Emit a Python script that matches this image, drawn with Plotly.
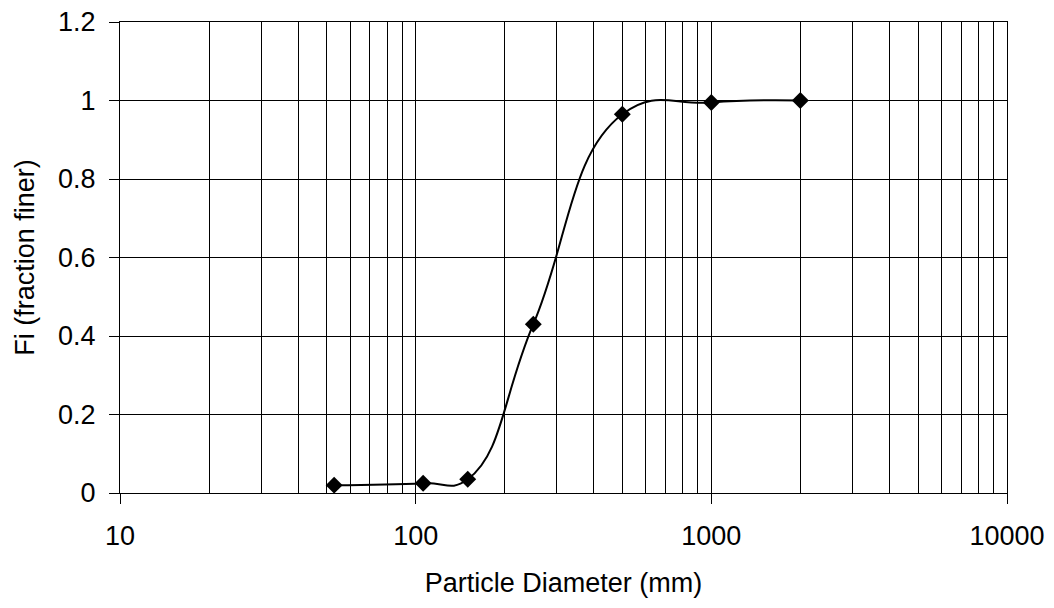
import plotly.graph_objects as go

diameter = [53, 106, 150, 250, 500, 1000, 2000]
fraction_finer = [0.02, 0.025, 0.035, 0.43, 0.965, 0.995, 1.0]
x_ticks = [10, 100, 1000, 10000]
x_minor = [m * d for d in (10, 100, 1000) for m in range(2, 10)]
y_ticks = [0, 0.2, 0.4, 0.6, 0.8, 1, 1.2]

fig = go.Figure()
fig.add_trace(go.Scatter(
    x=diameter, y=fraction_finer, mode="lines+markers",
    line=dict(color="black", width=2, shape="spline", smoothing=1.3),
    marker=dict(symbol="diamond", size=13, color="black"),
    showlegend=False,
))

font = dict(family="Liberation Sans, Arial, sans-serif", size=27, color="black")
fig.update_layout(
    width=1054, height=608,
    margin=dict(l=120, r=47, t=22, b=115, autoexpand=False),
    paper_bgcolor="white", plot_bgcolor="white",
    font=font,
)
fig.update_xaxes(
    type="log", range=[1, 4], automargin=False,
    tickvals=x_ticks, ticktext=[str(v) for v in x_ticks],
    ticks="outside", ticklen=10, tickcolor="black", ticklabelstandoff=9,
    showgrid=True, gridcolor="black", gridwidth=1,
    minor=dict(tickvals=x_minor, showgrid=True, gridcolor="black", gridwidth=1, ticks=""),
    showline=True, linecolor="black", linewidth=1, mirror=True,
    title=dict(text="Particle Diameter (mm)", font=font, standoff=22),
    zeroline=False,
)
fig.update_yaxes(
    range=[0, 1.2], automargin=False,
    tickvals=y_ticks, ticktext=["0", "0.2", "0.4", "0.6", "0.8", "1", "1.2"],
    ticks="outside", ticklen=10, tickcolor="black", ticklabelstandoff=8,
    showgrid=True, gridcolor="black", gridwidth=1,
    showline=True, linecolor="black", linewidth=1, mirror=True,
    title=dict(text="Fi (fraction finer)", font=font, standoff=15),
    zeroline=False,
)
fig.write_html("out.html")
